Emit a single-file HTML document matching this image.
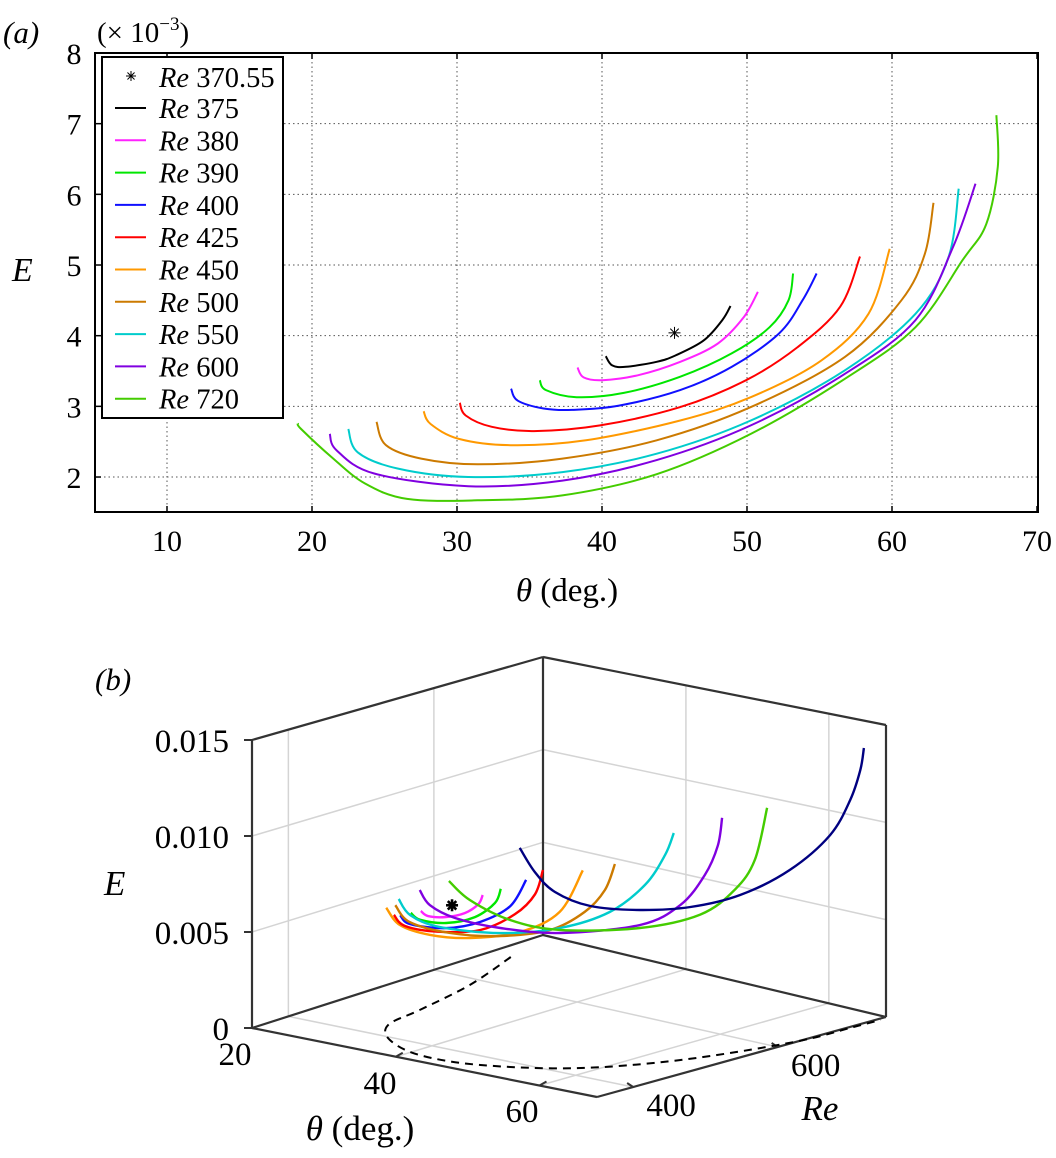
<!DOCTYPE html>
<html><head><meta charset="utf-8"><style>
html,body{margin:0;padding:0;background:#fff;}
svg{display:block;font-family:"Liberation Serif",serif;}
</style></head><body>
<svg id="fig" width="1056" height="1158" viewBox="0 0 1056 1158" xmlns="http://www.w3.org/2000/svg">
<g id="pa"></g>
<g id="pb"></g>
</svg>
<script>
// ===== Panel (a) data =====
const xTicksA = [10,20,30,40,50,60,70];
const yTicksA = [2,3,4,5,6,7,8];
const seriesNames = ["Re 375","Re 380","Re 390","Re 400","Re 425","Re 450","Re 500","Re 550","Re 600","Re 720"];
const legendLabels = ["375","380","390","400","425","450","500","550","600","720"];
const seriesColors = ["#000000","#ff22ff","#00e600","#1010ff","#ff0000","#ff9900","#cc7a00","#00cccc","#8000e0","#44cc00"];
const th375=[40.26,40.7,41.66,43.77,45.06,47.0,48.3,48.86];
const e375=[3.71,3.58,3.56,3.63,3.72,3.93,4.22,4.42];
const th380=[38.31,38.73,40.03,42.47,45.4,47.99,49.77,50.75];
const e380=[3.55,3.41,3.37,3.44,3.63,3.89,4.26,4.62];
const th390=[35.71,36.14,38.25,41.5,45.4,48.96,51.56,52.86,53.18];
const e390=[3.37,3.23,3.13,3.19,3.42,3.75,4.12,4.50,4.88];
const th400=[33.73,34.19,35.97,37.92,41.17,45.39,48.96,52.2,53.83,54.8];
const e400=[3.25,3.08,2.97,2.95,3.01,3.23,3.56,4.03,4.50,4.88];
const th425=[30.19,30.6,32.4,35.32,39.87,45.39,49.94,53.5,56.43,57.79];
const e425=[3.05,2.87,2.71,2.65,2.73,2.99,3.37,3.84,4.41,5.12];
const th450=[27.7,28.18,30.13,33.7,38.9,45.39,50.26,55.13,58.38,59.84];
const e450=[2.93,2.75,2.54,2.45,2.52,2.80,3.13,3.65,4.31,5.23];
const th500=[24.45,25.1,27.53,31.43,37.27,43.77,50.26,56.75,60.65,62.27,62.86];
const e500=[2.78,2.45,2.26,2.18,2.26,2.52,2.99,3.70,4.5,5.16,5.88];
const th550=[22.5,23.15,25.9,30.78,37.27,43.77,50.26,56.75,61.62,63.9,64.6];
const e550=[2.68,2.35,2.12,2.0,2.07,2.33,2.80,3.51,4.31,5.11,6.08];
const th600=[21.23,21.69,24.29,30.78,37.27,43.77,50.26,56.75,61.62,64.2,65.76];
const e600=[2.61,2.38,2.05,1.87,1.95,2.24,2.73,3.46,4.22,5.25,6.15];
const th720=[19.03,19.25,21.36,23.64,26.56,31.43,37.27,43.77,50.26,56.75,61.62,64.87,66.5,67.3,67.2];
const e720=[2.76,2.68,2.28,1.91,1.69,1.67,1.74,2.04,2.61,3.39,4.12,5.07,5.58,6.39,7.12];
const thetaA=[th375,th380,th390,th400,th425,th450,th500,th550,th600,th720];
const eA=[e375,e380,e390,e400,e425,e450,e500,e550,e600,e720];
const starTheta=45.0, starE=4.04;

// ===== Panel (b) data (theta deg, Re, E x1e-3) =====
const eTicksB=[0,0.005,0.010,0.015];
const eTickLabelsB=["0","0.005","0.010","0.015"];
const thetaTicksB=[20,40,60];
const reTicksB=[400,600];
const bColors=["#ff9900","#ff0000","#1010ff","#00e600","#ff22ff","#cc7a00","#00cccc","#8000e0","#44cc00","#000080"];
const bRe=[450,425,400,390,380,500,550,560,600,700];
const bTh450=[28.5,30.4,34.6,40.1,47.1,52.6,55.8];
const bE450=[5.69,4.93,4.73,4.98,5.82,7.28,9.68];
const bTh425=[32.1,33.6,38.2,44.1,48.9,51.7,52.8];
const bE425=[5.89,5.43,5.47,6.0,7.18,8.43,9.78];
const bTh400=[35.5,36.9,41.9,46.6,50.8,53.0];
const bE400=[6.43,6.07,6.24,6.91,8.05,9.58];
const bTh390=[38.0,39.3,42.9,46.9,49.7,50.5];
const bE390=[6.86,6.6,6.70,7.31,8.26,9.05];
const bTh380=[40.4,41.4,43.9,46.5,48.4,49.0];
const bE380=[7.26,7.07,7.21,7.61,8.22,8.74];
const bTh500=[24.7,26.7,32.3,39.2,46.2,51.0,53.8,55.2];
const bE500=[4.93,4.2,4.05,4.41,5.25,6.55,7.9,9.36];
const bTh550=[20.1,21.7,25.8,34.2,42.5,49.4,54.3,57.1,58.3];
const bE550=[4.30,3.58,3.27,3.58,4.47,5.82,7.6,9.37,10.6];
const bTh560=[22,23.4,26.9,33.2,41.5,52.6,58.2,61.6,63.4,64.0];
const bE560=[4.79,4.11,3.7,3.65,4.01,5.26,6.72,8.54,10.2,11.7];
const bTh600=[22,24.9,30.5,37.4,48.5,56.9,61.7,64.5,66.2];
const bE600=[4.77,4.0,3.38,3.38,4.31,5.64,7.29,9.07,11.9];
const bTh700=[21.7,23.8,26.6,31.5,38.4,45.4,52.3,59.2,64.8,67.6,69.0,69.5];
const bE700=[5.26,4.16,3.33,2.97,3.28,3.96,5.1,6.92,9.16,11.2,12.86,14.05];
const bTheta=[bTh450,bTh425,bTh400,bTh390,bTh380,bTh500,bTh550,bTh560,bTh600,bTh700];
const bE=[bE450,bE425,bE400,bE390,bE380,bE500,bE550,bE560,bE600,bE700];
const neutralTheta=[23.1,27.1,29.5,30.8,35.0,41.6,49.4,58.4,65.1,70.0,71.1,71.5];
const neutralRe=[674,578,486,430,391,367,373,415,491,598,670,703];
const starBTheta=45.7, starBRe=370.55, starBE=8.07;

const NS="http://www.w3.org/2000/svg";
function mk(parent,tag,attrs){const e=document.createElementNS(NS,tag);for(const k in attrs)e.setAttribute(k,attrs[k]);parent.appendChild(e);return e;}
function smooth(pts){
  let d="M"+pts[0][0].toFixed(1)+","+pts[0][1].toFixed(1);
  for(let i=0;i<pts.length-1;i++){
    const p0=pts[Math.max(0,i-1)],p1=pts[i],p2=pts[i+1],p3=pts[Math.min(pts.length-1,i+2)];
    const c1=[p1[0]+(p2[0]-p0[0])/6,p1[1]+(p2[1]-p0[1])/6];
    const c2=[p2[0]-(p3[0]-p1[0])/6,p2[1]-(p3[1]-p1[1])/6];
    d+=" C"+c1[0].toFixed(1)+","+c1[1].toFixed(1)+" "+c2[0].toFixed(1)+","+c2[1].toFixed(1)+" "+p2[0].toFixed(1)+","+p2[1].toFixed(1);
  }
  return d;
}
function star(parent,cx,cy,r,sw,color){
  const g=mk(parent,"g",{stroke:color,"stroke-width":sw});
  for(let k=0;k<4;k++){const a=k*Math.PI/4;mk(g,"line",{x1:cx-r*Math.cos(a),y1:cy-r*Math.sin(a),x2:cx+r*Math.cos(a),y2:cy+r*Math.sin(a)});}
  return g;
}

// ===== Panel (a) =====
const pa=document.getElementById("pa");
const L=95,R=1038,T=53,B=512;
const xA=t=>22+14.5*t;
const yA=e=>53+(8-e)*70.67;
xTicksA.forEach(t=>{
  if(t<70){const g=mk(pa,"line",{x1:xA(t),y1:T,x2:xA(t),y2:B,stroke:"#555","stroke-width":1,"stroke-dasharray":"1.5,3"});
  
  }
  const tk=mk(pa,"line",{x1:xA(t),y1:B,x2:xA(t),y2:B-6,stroke:"#000","stroke-width":1.5});
  
  
  const tk2=mk(pa,"line",{x1:xA(t),y1:T,x2:xA(t),y2:T+6,stroke:"#000","stroke-width":1.5});
  
  
  const lb=mk(pa,"text",{x:xA(t),y:551,"text-anchor":"middle","font-size":30});
  lb.textContent=t;
  
  
});
yTicksA.forEach(v=>{
  if(v<8){const g=mk(pa,"line",{x1:L,y1:yA(v),x2:R,y2:yA(v),stroke:"#555","stroke-width":1,"stroke-dasharray":"1.5,3"});
  
  }
  const tk=mk(pa,"line",{x1:L,y1:yA(v),x2:L+6,y2:yA(v),stroke:"#000","stroke-width":1.5});
  
  
  const lb=mk(pa,"text",{x:74,y:yA(v)+11,"text-anchor":"middle","font-size":30});
  lb.textContent=v;
  
  
});
const frame=mk(pa,"rect",{x:L,y:T,width:R-L,height:B-T,fill:"none",stroke:"#000","stroke-width":2});


thetaA.forEach((ths,i)=>{
  const pts=ths.map((t,j)=>[xA(t),yA(eA[i][j])]);
  const p=mk(pa,"path",{d:smooth(pts),fill:"none",stroke:seriesColors[i],"stroke-width":2});
  
  
});
const sa=star(pa,xA(starTheta),yA(starE),6,1,"#000");


const lg=mk(pa,"g",{});


mk(lg,"rect",{x:102,y:57,width:181,height:361,fill:"#fff",stroke:"#000","stroke-width":2});
const ls=star(lg,131,76,5,1,"#000");


const lt0=mk(lg,"text",{x:159,y:87,"font-size":28.5});
lt0.innerHTML='<tspan font-style="italic">Re</tspan> 370.55';


legendLabels.forEach((lab,i)=>{
  const cy=108+i*32.3;
  const ln=mk(lg,"line",{x1:115,y1:cy,x2:146,y2:cy,stroke:seriesColors[i],"stroke-width":2});
  
  
  const tx=mk(lg,"text",{x:159,y:cy+10,"font-size":28.5});
  tx.innerHTML='<tspan font-style="italic">Re</tspan> '+lab;
  
  
});
let t;
t=mk(pa,"text",{x:3,y:43,"font-size":31,"font-style":"italic"});t.textContent="(a)";


t=mk(pa,"text",{x:97,y:42,"font-size":29});t.innerHTML='(× 10<tspan font-size="19" dy="-12">−3</tspan><tspan dy="12">)</tspan>';


t=mk(pa,"text",{x:12,y:281,"font-size":34,"font-style":"italic"});t.textContent="E";


t=mk(pa,"text",{x:567,y:601,"font-size":33,"text-anchor":"middle"});t.innerHTML='<tspan font-style="italic">θ</tspan> (deg.)';



// ===== Panel (b) =====
const pb=document.getElementById("pb");
function P(th,re,e){
  return [252+7.2*(th-20)+0.73*(re-350), 1028+1.44*(th-20)-0.233*(re-350)-19.2*e];
}
const A=[252,1028],Bc=[597,1097],C=[886,1017],D=[543,935],At=[252,740],Dt=[543,657],Ct=[886,725];
function seg(a,b,name,col,w){const l=mk(pb,"line",{x1:a[0],y1:a[1],x2:b[0],y2:b[1],stroke:col,"stroke-width":w});
 
 return l;}
const gcol="#d4d4d4";
reTicksB.forEach(r=>{const f=(r-350)/400;
  const p0=[A[0]+(D[0]-A[0])*f,A[1]+(D[1]-A[1])*f],p1=[At[0]+(Dt[0]-At[0])*f,At[1]+(Dt[1]-At[1])*f];
  seg(p0,p1,"left-wall-gridline",gcol,1.5);
  const q=[Bc[0]+(C[0]-Bc[0])*f,Bc[1]+(C[1]-Bc[1])*f];
  seg(p0,q,"floor-gridline",gcol,1.5);
});
thetaTicksB.forEach(th=>{if(th===20)return;const f=(th-20)/48;
  const p0=[D[0]+(C[0]-D[0])*f,D[1]+(C[1]-D[1])*f],p1=[Dt[0]+(Ct[0]-Dt[0])*f,Dt[1]+(Ct[1]-Dt[1])*f];
  seg(p0,p1,"back-wall-gridline",gcol,1.5);
  const q=[A[0]+(Bc[0]-A[0])*f,A[1]+(Bc[1]-A[1])*f];
  seg(q,p0,"floor-gridline",gcol,1.5);
});
[0.005,0.010].forEach(e=>{const f=e/0.015;
  const a=[A[0],A[1]+(At[1]-A[1])*f],d=[D[0],D[1]+(Dt[1]-D[1])*f],c=[C[0],C[1]+(Ct[1]-C[1])*f];
  seg(a,d,"left-wall-gridline",gcol,1.5);seg(d,c,"back-wall-gridline",gcol,1.5);
});
const bw=2.2,bc="#333";
seg(A,Bc,"theta-axis-line",bc,bw);seg(Bc,C,"re-axis-line",bc,bw);seg(A,At,"e-axis-line",bc,bw);
seg(At,Dt,"box-edge",bc,bw);seg(Dt,Ct,"box-edge",bc,bw);seg(D,Dt,"box-edge",bc,bw);seg(C,Ct,"box-edge",bc,bw);
seg(A,D,"box-edge",bc,bw);seg(D,C,"box-edge",bc,bw);
eTicksB.forEach((e,i)=>{const y=A[1]+(At[1]-A[1])*e/0.015;
  seg([A[0]-8,y],[A[0],y],"e-tick",bc,2);
  const tx=mk(pb,"text",{x:229,y:y+12,"text-anchor":"end","font-size":33});tx.textContent=eTickLabelsB[i];
  
  
});
thetaTicksB.forEach(th=>{const f=(th-20)/48;const p=[A[0]+(Bc[0]-A[0])*f,A[1]+(Bc[1]-A[1])*f];
  if(th>20)seg(p,[p[0]+7,p[1]-4],"theta-tick",bc,2);
  const pos={20:[235,1065],40:[380,1094],60:[522,1122]}[th];
  const tx=mk(pb,"text",{x:pos[0],y:pos[1],"text-anchor":"middle","font-size":33});tx.textContent=th;
  
  
});
reTicksB.forEach(r=>{const f=(r-350)/400;const p=[Bc[0]+(C[0]-Bc[0])*f,Bc[1]+(C[1]-Bc[1])*f];
  seg(p,[p[0]-6,p[1]-4],"re-tick",bc,2);
  const tx=mk(pb,"text",{x:p[0]+38,y:p[1]+29,"text-anchor":"middle","font-size":33});tx.textContent=r;
  
  
});
const np=neutralTheta.map((th,i)=>P(th,neutralRe[i],0));
const nd=mk(pb,"path",{d:smooth(np),fill:"none",stroke:"#000","stroke-width":2,"stroke-dasharray":"8,6"});


bTheta.forEach((ths,i)=>{
  const pts=ths.map((th,j)=>P(th,bRe[i],bE[i][j]));
  const p=mk(pb,"path",{d:smooth(pts),fill:"none",stroke:bColors[i],"stroke-width":2.4});
  
  
});
const sp=P(starBTheta,starBRe,starBE);
const sb=star(pb,sp[0],sp[1],6,2.6,"#000");


t=mk(pb,"text",{x:95,y:690,"font-size":31,"font-style":"italic"});t.textContent="(b)";


t=mk(pb,"text",{x:104,y:895,"font-size":35,"font-style":"italic"});t.textContent="E";


t=mk(pb,"text",{x:360,y:1140,"font-size":35,"text-anchor":"middle"});t.innerHTML='<tspan font-style="italic">θ</tspan> (deg.)';


t=mk(pb,"text",{x:820,y:1120,"font-size":35,"text-anchor":"middle","font-style":"italic"});t.textContent="Re";


</script>
</body></html>
